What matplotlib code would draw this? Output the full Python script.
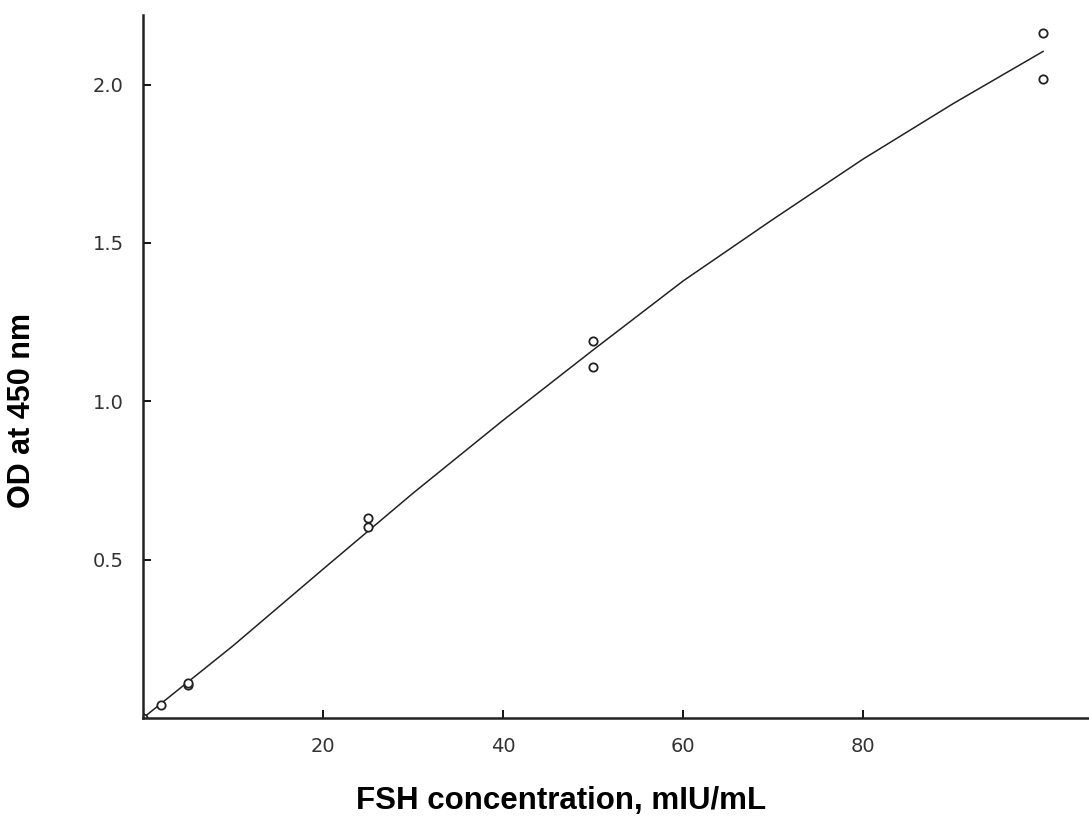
import numpy as np
import matplotlib
matplotlib.use("Agg")
from matplotlib import pyplot as plt

# standard points (duplicates)
conc = [0, 2, 5, 5, 25, 25, 50, 50, 100, 100]
od = [0.0, 0.041, 0.104, 0.11, 0.632, 0.603, 1.19, 1.11, 2.164, 2.018]

# fitted curve
fit_x = [0, 10, 20, 30, 40, 50, 60, 70, 80, 90, 100]
fit_y = [0, 0.228, 0.47, 0.71, 0.94, 1.162, 1.38, 1.575, 1.765, 1.94, 2.105]

xticks = [20, 40, 60, 80]
yticks = [0.5, 1.0, 1.5, 2.0]

plt.rcParams['font.family'] = ['Liberation Sans', 'DejaVu Sans']

fig = plt.figure(figsize=(10.89, 8.19), dpi=100)
ax = fig.add_axes([143/1089, 101/819, 1 - 143/1089, (718-15)/819])

ax.plot(fit_x, fit_y, color='#222222', lw=1.1)
ax.plot(conc, od, 'o', mfc='white', mec='#222222', ms=6, mew=1.3)

ax.set_xlim(0, 105.1)
ax.set_ylim(0, 2.22)
ax.set_xticks(xticks)
ax.set_yticks(yticks)
ax.set_xticklabels([str(t) for t in xticks], family='DejaVu Sans')
ax.set_yticklabels(['%.1f' % t for t in yticks], family='DejaVu Sans')
ax.tick_params(direction='in', length=6, width=1.3, labelsize=14,
               labelcolor='#333333')
ax.tick_params(axis='x', pad=14)
ax.tick_params(axis='y', pad=14)

for s in ['top', 'right']:
    ax.spines[s].set_visible(False)
ax.spines['left'].set_linewidth(1.8)
ax.spines['bottom'].set_linewidth(1.8)
ax.spines['left'].set_color('#222222')
ax.spines['bottom'].set_color('#222222')

fig.text(561/1089, 1 - 801/819, 'FSH concentration, mIU/mL', ha='center', va='center',
         fontsize=22.5, fontweight='bold')
fig.text(22/1089, 1 - 411/819, 'OD at 450 nm', ha='center', va='center',
         rotation=90, fontsize=22, fontweight='bold')

fig.savefig('out.png', dpi=100)
